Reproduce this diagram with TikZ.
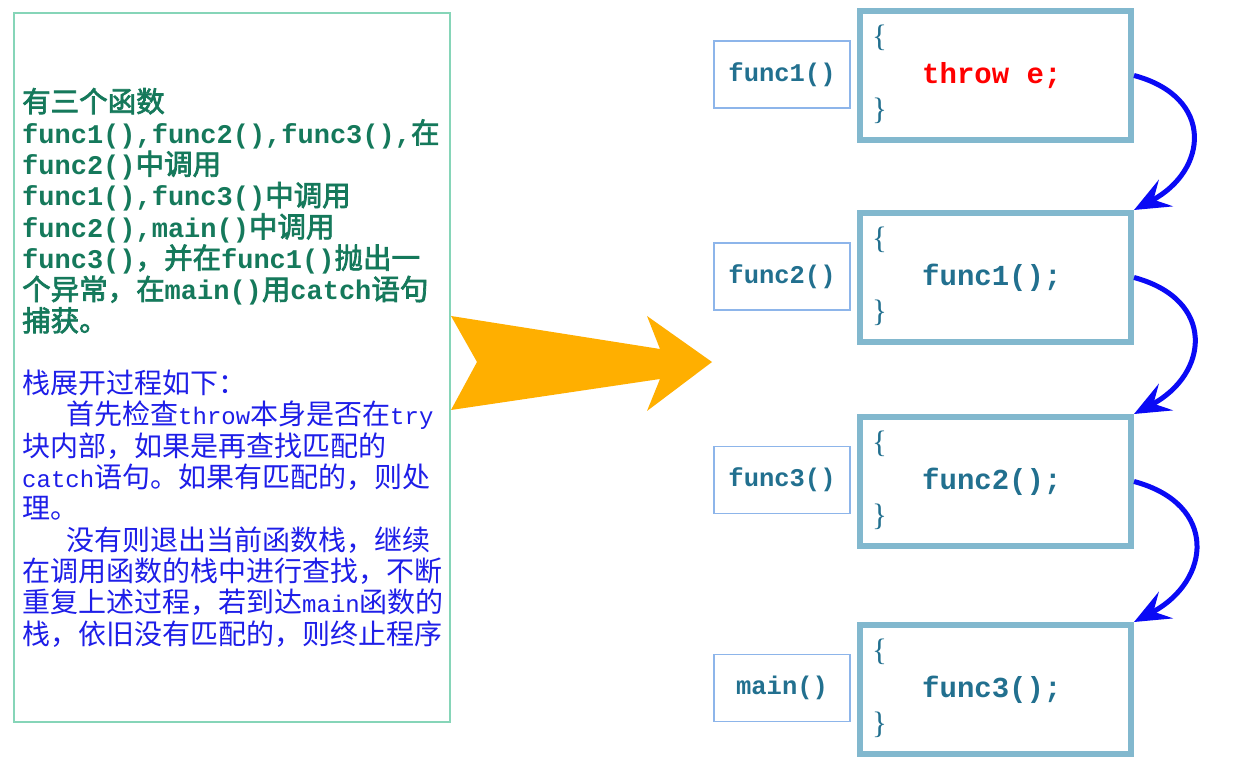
\documentclass[tikz,border=0pt]{standalone}
\usepackage{fontspec}
\setmainfont{Liberation Mono}
\newfontfamily\cjkfont{Noto Sans CJK SC}
\newfontfamily\cjkboldfont[FakeBold=2.5]{Noto Sans CJK SC}
\newfontfamily\monofont{Liberation Mono}
\newfontfamily\bracefont{Liberation Serif}
\usetikzlibrary{arrows.meta,calc}
\definecolor{boxmint}{HTML}{86D5B8}
\definecolor{greentext}{HTML}{15795B}
\definecolor{bluetext}{HTML}{1E1EE8}
\definecolor{stackblue}{HTML}{82B8CE}
\definecolor{labelblue}{HTML}{8DB5EA}
\definecolor{codeteal}{HTML}{22708F}
\definecolor{arrowblue}{HTML}{0A0AF5}
\definecolor{orangearrow}{HTML}{FFAF00}
\definecolor{throwred}{HTML}{FF0000}
\newcommand\G[1]{{\fontsize{28.5}{30}\selectfont\cjkboldfont\mdseries #1}}
\newcommand\B[1]{{\fontsize{28}{30}\selectfont\cjkfont #1}}
\tikzset{
  gline/.style={anchor=base west, inner sep=0pt, text=greentext, font=\monofont\bfseries\fontsize{27}{30}\selectfont},
  bline/.style={anchor=base west, inner sep=0pt, text=bluetext, font=\monofont\fontsize{24}{30}\selectfont},
  stackbox/.style={draw=stackblue, line width=6pt, minimum width=271pt, minimum height=129pt, inner sep=0pt},
  lblbox/.style={draw=labelblue, line width=1.3pt, minimum width=136pt, minimum height=67pt, inner sep=0pt, text=codeteal, font=\monofont\bfseries\fontsize{25.5}{26}\selectfont},
  bracetext/.style={anchor=west, inner sep=0pt, text=codeteal, font=\bracefont\fontsize{31}{31}\selectfont},
  codetext/.style={anchor=west, inner sep=0pt, text=codeteal, font=\monofont\bfseries\fontsize{29}{30}\selectfont},
  curvearrow/.style={draw=arrowblue, line width=5pt, -{Stealth[length=36pt,width=30pt,inset=14pt]}},
}
\begin{document}
\begin{tikzpicture}[x=1pt,y=1pt]
\useasboundingbox (0,0) rectangle (1241,762);
\fill[white] (0,0) rectangle (1241,762);

% big orange arrow
\fill[orangearrow] (451,446) -- (477,400) -- (451,352) -- (660,383) -- (647,351) -- (712,400) -- (647,446) -- (660,413) -- cycle;

% left description box
\node[draw=boxmint, line width=2pt, minimum width=436pt, minimum height=709pt, inner sep=0pt, outer sep=0pt, anchor=south west] (desc) at (14,40) {};

\node[gline] (g1) at (22,650) {\G{有三个函数}};
\node[gline] (g2) at (22,618.7) {func1(),func2(),func3(),\G{在}};
\node[gline] (g3) at (22,587.4) {func2()\G{中调用}};
\node[gline] (g4) at (22,556.1) {func1(),func3()\G{中调用}};
\node[gline] (g5) at (22,524.8) {func2(),main()\G{中调用}};
\node[gline] (g6) at (22,493.5) {func3()\G{，并在}func1()\G{抛出一}};
\node[gline] (g7) at (22,462.2) {\G{个异常，在}main()\G{用}catch\G{语句}};
\node[gline] (g8) at (22,430.9) {\G{捕获。}};

\node[bline] (b1) at (22,368.3) {\B{栈展开过程如下：}};
\node[bline] (b2) at (66,337) {\B{首先检查}throw\B{本身是否在}try};
\node[bline] (b3) at (22,305.7) {\B{块内部，如果是再查找匹配的}};
\node[bline] (b4) at (22,274.4) {catch\B{语句。如果有匹配的，则处}};
\node[bline] (b5) at (22,243.1) {\B{理。}};
\node[bline] (b6) at (66,211.8) {\B{没有则退出当前函数栈，继续}};
\node[bline] (b7) at (22,180.5) {\B{在调用函数的栈中进行查找，不断}};
\node[bline] (b8) at (22,149.2) {\B{重复上述过程，若到达}main\B{函数的}};
\node[bline] (b9) at (22,117.9) {\B{栈，依旧没有匹配的，则终止程序}};

% stack frames
\node[stackbox] (s1) at (995.5,686.5) {};
\node[stackbox] (s2) at (995.5,484.5) {};
\node[stackbox] (s3) at (995.5,280.5) {};
\node[stackbox] (s4) at (995.5,72.5) {};

\node[lblbox] (l1) at (782,687.5) {func1()};
\node[lblbox] (l2) at (782,485.5) {func2()};
\node[lblbox] (l3) at (782,282) {func3()};
\node[lblbox] (l4) at (782,74) {main()};

\foreach \s in {s1,s2,s3,s4}{
  \node[bracetext] (\s o) at ($(\s.north west)+(15,-30)$) {\{};
  \node[bracetext] (\s c) at ($(\s.north west)+(15,-103)$) {\}};
}
\node[codetext, text=throwred] (c1) at ($(s1.west)+(65,0)$) {throw e;};
\node[codetext] (c2) at ($(s2.west)+(65,0)$) {func1();};
\node[codetext] (c3) at ($(s3.west)+(65,0)$) {func2();};
\node[codetext] (c4) at ($(s4.west)+(65,0)$) {func3();};

% unwinding arrows
\draw[curvearrow] (s1.east) to[out=-15,in=28,looseness=1.6] (s2.north east);
\draw[curvearrow] (s2.east) to[out=-15,in=28,looseness=1.6] (s3.north east);
\draw[curvearrow] (s3.east) to[out=-15,in=28,looseness=1.6] (s4.north east);
\end{tikzpicture}
\end{document}
